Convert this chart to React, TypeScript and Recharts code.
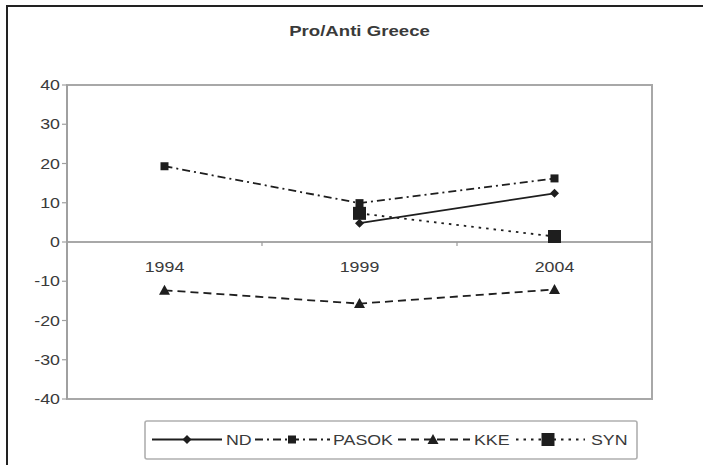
import React from 'react';
import { LineChart, Line, XAxis, YAxis, ReferenceLine, ReferenceDot, ReferenceArea } from 'recharts';

const years = ['1994', '1999', '2004'];
const ndValues = [null, 4.8, 12.4];
const pasokValues = [19.3, 9.9, 16.2];
const kkeValues = [-12.3, -15.7, -12.1];
const synValues = [null, 7.3, 1.4];
const yTicks = [-40, -30, -20, -10, 0, 10, 20, 30, 40];
const seriesNames = ['ND', 'PASOK', 'KKE', 'SYN'];
const titleText = 'Pro/Anti Greece';

const data = years.map((y, i) => ({
  year: y,
  ND: ndValues[i],
  PASOK: pasokValues[i],
  KKE: kkeValues[i],
  SYN: synValues[i],
}));

const INK = '#1e1e1e';
const TXT = '#3a3a3a';
const FONT = '"Liberation Sans", Arial, sans-serif';
const SX = 1.27;

type Kind = 'diamond' | 'smallSquare' | 'triangle' | 'bigSquare';

const markerShape = (kind: Kind, cx: number, cy: number, key?: string | number) => {
  if (cx == null || cy == null || isNaN(cx) || isNaN(cy)) return <g key={key} />;
  if (kind === 'diamond') {
    return <polygon key={key} points={`${cx},${cy - 4.5} ${cx + 4.5},${cy} ${cx},${cy + 4.5} ${cx - 4.5},${cy}`} fill={INK} />;
  }
  if (kind === 'smallSquare') {
    return <rect key={key} x={cx - 4} y={cy - 4} width={8} height={8} fill={INK} />;
  }
  if (kind === 'triangle') {
    return <polygon key={key} points={`${cx},${cy - 5.5} ${cx + 5.5},${cy + 4.5} ${cx - 5.5},${cy + 4.5}`} fill={INK} />;
  }
  return <rect key={key} x={cx - 6.5} y={cy - 6.5} width={13} height={13} fill={INK} />;
};

const seriesStyle: Record<string, { dash?: string; kind: Kind }> = {
  ND: { dash: undefined, kind: 'diamond' },
  PASOK: { dash: '8 4 2 4', kind: 'smallSquare' },
  KKE: { dash: '8 5', kind: 'triangle' },
  SYN: { dash: '2.5 5', kind: 'bigSquare' },
};

const legendLayout: Record<string, { x1: number; x2: number; m: number; t: number }> = {
  ND: { x1: 152, x2: 222, m: 187, t: 226 },
  PASOK: { x1: 255, x2: 330, m: 292, t: 333 },
  KKE: { x1: 398, x2: 470, m: 433, t: 474 },
  SYN: { x1: 516, x2: 585, m: 548, t: 591 },
};

const YTick = (props: any) => {
  const { x, y, payload } = props;
  return (
    <text
      transform={`translate(${x},${y}) scale(${SX},1)`}
      textAnchor="end"
      dy="0.36em"
      fontSize={14}
      fontFamily={FONT}
      fill={TXT}
    >
      {payload.value}
    </text>
  );
};

const ZeroLine = (props: any) => {
  const { x1, y1, x2, y2 } = props;
  const w = x2 - x1;
  const n = years.length;
  const ticks = [];
  for (let k = 1; k < n; k++) {
    const tx = x1 + (w * k) / n;
    ticks.push(<line key={k} x1={tx} y1={y1} x2={tx} y2={y1 + 4} stroke="#9a9a9a" strokeWidth={1.2} />);
  }
  return (
    <g>
      <line x1={x1} y1={y1} x2={x2} y2={y2} stroke="#a8a8a8" strokeWidth={2} />
      {ticks}
    </g>
  );
};

export default function App() {
  return (
    <div style={{ position: 'absolute', left: 0, top: 0, width: 703, height: 465, background: '#fff', overflow: 'hidden' }}>
      <div
        style={{
          position: 'absolute',
          left: 6,
          top: 5,
          width: 720,
          height: 480,
          borderLeft: '2px solid #222',
          borderTop: '2px solid #222',
        }}
      />
      <div style={{ position: 'absolute', left: 0, top: 0 }}>
        <LineChart width={703} height={465} data={data} margin={{ top: 85, right: 51, bottom: 66, left: 0 }}>
          <XAxis dataKey="year" scale="band" hide />
          <YAxis
            domain={[-40, 40]}
            ticks={yTicks}
            width={67}
            interval={0}
            axisLine={{ stroke: '#a0a0a0', strokeWidth: 2 }}
            tickLine={{ stroke: '#a0a0a0', strokeWidth: 1.2 }}
            tickSize={5}
            tick={<YTick />}
            allowDataOverflow
          />
          <ReferenceArea y1={-40} y2={40} fill="none" stroke="#a8a8a8" strokeWidth={2} ifOverflow="visible" />
          <ReferenceLine y={0} shape={<ZeroLine />} />
          {years.map((yr) => (
            <ReferenceDot
              key={yr}
              x={yr}
              y={0}
              r={0}
              ifOverflow="visible"
              shape={(p: any) => (
                <text
                  transform={`translate(${p.cx},${p.cy + 30}) scale(${SX},1)`}
                  textAnchor="middle"
                  fontSize={14}
                  fontFamily={FONT}
                  fill={TXT}
                >
                  {yr}
                </text>
              )}
            />
          ))}
          {seriesNames.map((name) => {
            const st = seriesStyle[name];
            return (
              <Line
                key={name}
                dataKey={name}
                stroke={INK}
                strokeWidth={1.8}
                strokeDasharray={st.dash}
                isAnimationActive={false}
                connectNulls={false}
                dot={(p: any) => markerShape(st.kind, p.cx, p.cy, p.key ?? p.index)}
                activeDot={false}
              />
            );
          })}
        </LineChart>
      </div>
      <svg width={703} height={465} style={{ position: 'absolute', left: 0, top: 0, pointerEvents: 'none' }}>
        <text
          transform={`translate(359.5,36) scale(1.33,1)`}
          textAnchor="middle"
          fontSize={14}
          fontWeight="bold"
          fontFamily={FONT}
          fill={TXT}
        >
          {titleText}
        </text>
        <rect x={145} y={421} width={492} height={38} rx={2} fill="none" stroke="#b0b0b0" strokeWidth={1.6} />
        {seriesNames.map((name) => {
          const L = legendLayout[name];
          const st = seriesStyle[name];
          const cy = 439.5;
          return (
            <g key={name}>
              <line x1={L.x1} y1={cy} x2={L.x2} y2={cy} stroke={INK} strokeWidth={1.8} strokeDasharray={st.dash} />
              {markerShape(st.kind, L.m, cy)}
              <text
                transform={`translate(${L.t},${cy + 5}) scale(${SX},1)`}
                fontSize={14}
                fontFamily={FONT}
                fill={TXT}
              >
                {name}
              </text>
            </g>
          );
        })}
      </svg>
    </div>
  );
}
